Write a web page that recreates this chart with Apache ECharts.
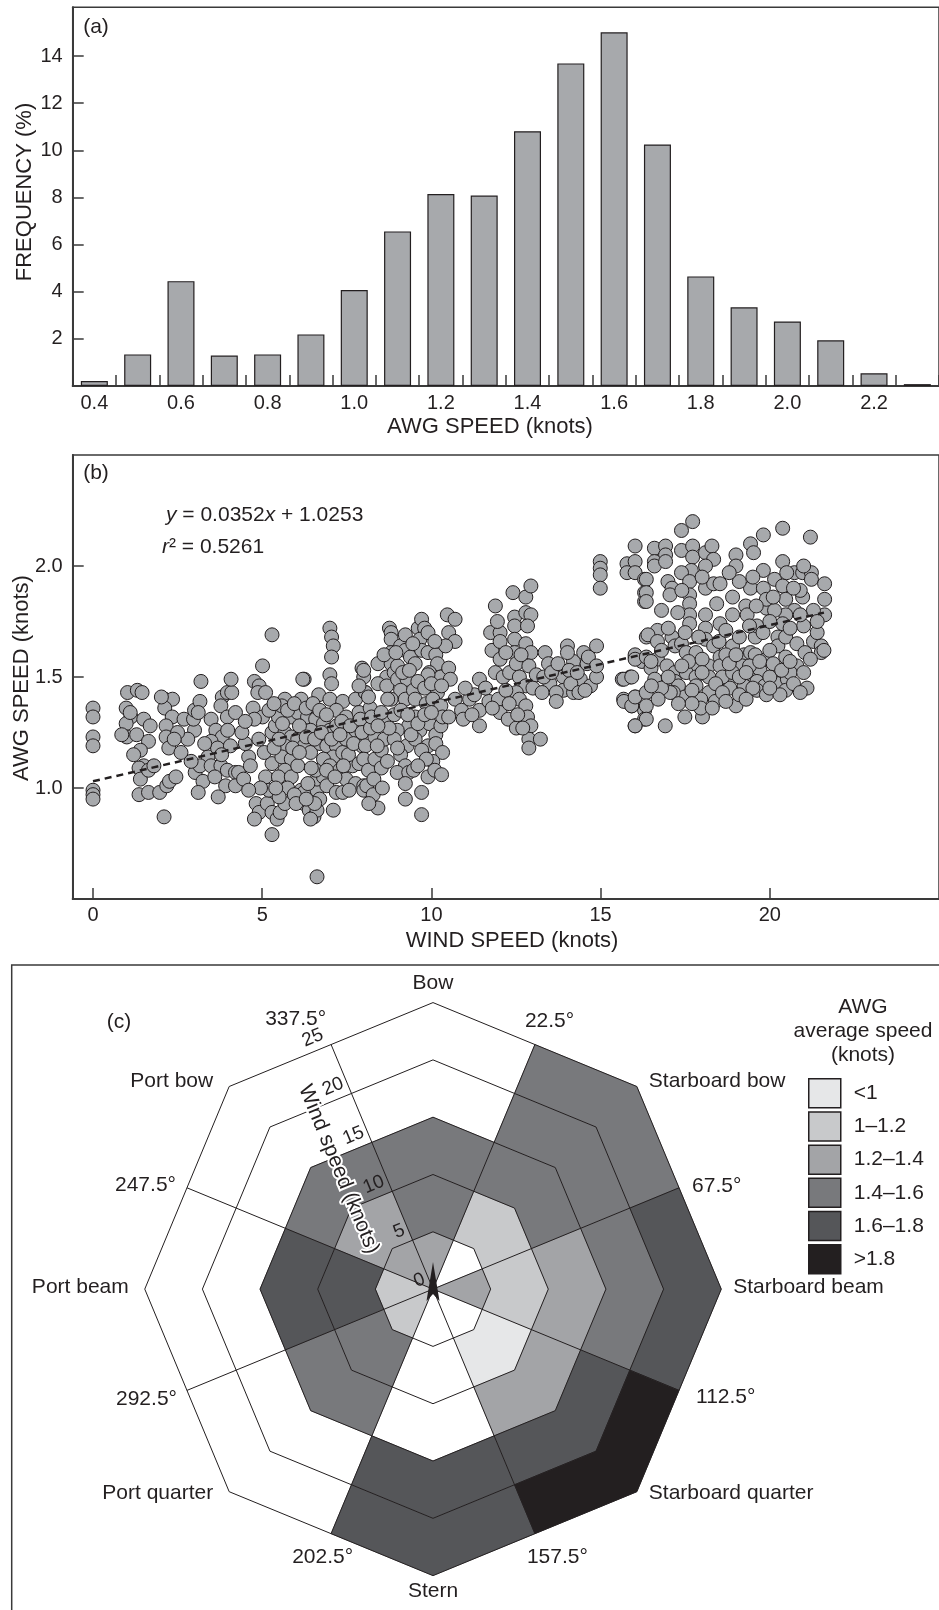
<!DOCTYPE html>
<html><head><meta charset="utf-8">
<script src="https://cdn.jsdelivr.net/npm/echarts@6/dist/echarts.min.js"></script>
<style>html,body{margin:0;padding:0;background:#fff}#c{width:939px;height:1610px}</style>
</head><body><div id="c"></div>
<script>
// ---------- DATA ----------
// (a) histogram
const histCategories = ['0.4','0.5','0.6','0.7','0.8','0.9','1.0','1.1','1.2','1.3','1.4','1.5','1.6','1.7','1.8','1.9','2.0','2.1','2.2','2.3'];
const histFrequency = [0.21,1.34,4.45,1.29,1.34,2.19,4.07,6.56,8.15,8.08,10.81,13.69,15.01,10.25,4.65,3.34,2.74,1.94,0.54,0.08];
const freqTicks = [2,4,6,8,10,12,14];

// (b) scatter: [wind speed, AWG speed]
const scatterPoints = [
[0,1.36],[0,1.32],[0,1.23],[0,1.19],[0,0.99],[0,0.97],[0,0.95],
[1.02,1.43],[1.31,1.44],[1.45,1.43],[0.98,1.36],[1.12,1.32],[0.98,1.29],[1.5,1.31],[1.69,1.28],[1.0,1.23],[1.29,1.24],[1.64,1.21],[1.4,1.17],[1.5,1.1],[1.36,1.09],[1.4,1.04],[1.64,1.08],[1.36,0.97],[1.64,0.98],
[2.12,1.40],[2.35,1.40],[2.12,1.36],[2.34,1.32],[2.16,1.28],[2.16,1.23],[2.24,1.18],[1.97,0.98],[2.18,1.01],[2.26,1.03],[2.45,1.05],[2.1,0.87],[2.02,1.41],
[2.69,1.31],[3.0,1.26],[2.97,1.31],[3.0,1.35],[3.19,1.48],[3.16,1.39],[3.11,1.34],[3.49,1.31],[3.4,1.14],[3.02,1.07],[3.16,1.10],[3.25,1.03],[3.11,0.98],[3.49,1.1],
[3.82,1.41],[3.97,1.43],[4.1,1.43],[4.08,1.49],[3.78,1.37],[3.97,1.32],[4.21,1.34],[3.63,1.26],[3.82,1.23],[3.98,1.26],[3.49,1.21],[3.68,1.18],[4.06,1.19],[3.78,1.1],[3.97,1.08],[4.21,1.07],[3.92,1.01],[4.21,1.01],[3.7,0.96],[4.3,1.07],
[4.77,1.48],[4.91,1.46],[5.01,1.55],[4.87,1.43],[5.1,1.43],[4.73,1.36],[5.01,1.32],[4.77,1.31],[5.29,1.69],
[4.82,0.93],[4.91,0.89],[4.77,0.86],[5.15,0.93],[5.29,0.89],[5.44,0.86],[5.53,0.89],[5.67,0.93],[5.29,0.79],[5.2,0.99],[5.1,1.05],[5.29,1.11],[5.06,1.16],[5.29,1.25],[5.39,1.28],
[5.48,1.32],[5.67,1.4],[5.86,1.32],[6.05,1.34],[6.15,1.4],[6.24,1.49],[6.67,1.42],[5.67,1.25],[5.86,1.23],[6.05,1.22],[5.67,1.19],[5.58,1.14],[5.86,1.13],[5.67,1.08],[5.48,1.05],[5.86,1.05],[6.05,1.1],[6.15,0.99],[6.24,0.93],[6.39,0.9],[6.53,0.87],[6.62,0.9],[6.43,0.86],[6.24,0.98],[6.62,0.99],[6.62,1.04],[6.81,1.05],[6.58,1.08],[6.91,1.01],[7.1,0.9],[7.19,0.98],[7.38,0.98],[6.62,0.60],
[6.34,1.32],[6.58,1.31],[6.81,1.29],[7.0,1.26],[6.43,1.26],[6.24,1.19],[6.43,1.16],[6.72,1.2],[6.91,1.19],[7.19,1.19],[7.1,1.14],[7.38,1.16],[7.48,1.22],[6.81,1.13],[7.0,1.1],[7.29,1.08],[7.48,1.04],[7.67,1.1],[7.76,1.02],[7.57,0.99],
[7.0,1.72],[7.05,1.68],[7.1,1.64],[7.05,1.59],[7.0,1.51],[7.05,1.47],[7.0,1.40],
[7.38,1.39],[7.19,1.35],[7.48,1.32],[7.76,1.40],[7.95,1.54],[8.0,1.5],[8.05,1.43],[7.86,1.34],[7.95,1.25],[7.95,1.19],[7.86,1.11],[8.0,1.01],[7.76,1.26],[6.2,1.49],[5.58,1.37],
[5.6,1.29],[5.75,1.35],[5.95,1.38],[6.1,1.28],[6.3,1.36],[6.5,1.38],[6.7,1.35],[6.9,1.33],[7.2,1.28],[7.35,1.3],[7.6,1.28],[5.9,1.18],[6.1,1.16],[6.3,1.23],[6.55,1.22],[6.75,1.25],[7.05,1.22],[7.3,1.24],[7.55,1.15],[7.7,1.2],[5.75,1.0],[5.95,0.97],[6.0,0.93],[6.35,1.02],[6.45,1.09],[6.9,1.08],[7.15,1.05],[7.4,1.1],[6.7,0.95],[6.55,0.93],[6.3,0.95],[5.5,0.96],[5.4,1.0],[5.35,1.18],[5.5,1.22],[5.2,1.35],[5.35,1.38],[4.6,1.14],[4.5,1.2],[4.65,1.1],[4.45,1.04],[4.9,1.22],[4.95,1.0],[4.6,0.99],[3.3,1.2],[2.8,1.22],[2.6,1.16],[2.9,1.12],[3.6,1.05],[3.8,1.15],[4.4,1.25],[4.5,1.3],[2.5,1.25],[1.8,1.1],[1.2,1.15],[1.1,1.34],[2.4,1.22],[0.85,1.24],
[8.0,1.53],[8.05,1.43],[8.19,1.36],[7.9,1.31],[7.95,1.25],[8.05,1.19],[8.0,1.13],[8.14,1.08],[8.0,0.99],[8.09,1.01],[8.28,0.97],[8.42,0.91],[8.33,1.13],[8.52,1.17],[8.52,1.09],[8.33,1.23],[8.61,1.22],[8.42,1.56],[8.76,1.72],[8.81,1.70],[8.81,1.67],[8.81,1.61],[8.81,1.56],[8.68,1.50],[8.42,1.47],[8.68,1.46],[8.9,1.52],[9.09,1.64],[9.23,1.69],[9.23,1.62],[9.38,1.59],[9.52,1.56],[9.61,1.72],[9.71,1.76],[9.8,1.72],[9.66,1.67],[9.71,1.62],[9.9,1.61],[10.13,1.60],[10.18,1.56],[9.94,1.52],[10.28,1.50],[10.47,1.78],[10.7,1.76],[10.51,1.70],[10.7,1.66],[10.42,1.64],[10.51,1.54],[10.56,1.49],
[9.0,1.49],[9.28,1.49],[9.09,1.44],[8.81,1.40],[9.23,1.40],[9.47,1.44],[9.52,1.40],[9.9,1.51],[9.85,1.38],[10.18,1.43],[10.04,1.40],[10.28,1.37],[9.52,1.32],[9.33,1.28],[9.66,1.26],[9.94,1.29],[10.13,1.24],[10.28,1.28],[10.33,1.32],[10.51,1.32],[8.99,1.26],[8.9,1.22],[9.28,1.19],[9.52,1.22],[9.9,1.19],[10.13,1.2],[10.33,1.16],[9.71,1.17],[10.04,1.12],[9.85,1.13],[9.09,1.15],[9.23,1.1],[8.99,1.07],[9.33,1.07],[9.47,1.08],[9.23,1.02],[9.23,0.95],[9.71,0.98],[9.71,0.88],
[8.2,1.27],[8.4,1.19],[8.6,1.3],[8.75,1.27],[8.9,1.33],[9.1,1.35],[9.3,1.33],[9.4,1.24],[9.6,1.29],[9.8,1.33],[10.0,1.34],[9.0,1.55],[9.15,1.52],[9.35,1.53],[9.6,1.48],[9.8,1.45],[10.0,1.47],[10.3,1.46],[8.6,1.6],[8.95,1.61],[9.45,1.65],[9.9,1.7],[10.1,1.66],[8.3,1.04],[8.55,1.0],[8.7,1.12],[9.0,1.18],[9.6,1.1],[9.9,1.05],[10.1,1.08],[10.3,1.06],[8.15,0.93],
[10.7,1.40],[10.89,1.35],[10.94,1.31],[11.13,1.40],[11.27,1.42],[11.42,1.49],[11.42,1.35],[11.42,1.28],[11.7,1.39],[11.98,1.40],[12.03,1.34],[12.27,1.31],[12.51,1.27],[11.89,1.82],[11.75,1.70],[12.03,1.70],[11.79,1.62],[12.03,1.66],[11.89,1.52],[12.03,1.58],[12.12,1.50],[12.31,1.52],[12.41,1.88],[12.79,1.86],[12.94,1.91],[12.46,1.77],[12.46,1.73],[12.46,1.67],[12.79,1.79],[12.94,1.78],[12.84,1.73],[12.79,1.65],[12.94,1.61],[12.46,1.61],[12.51,1.56],[12.6,1.50],[12.88,1.55],[12.79,1.46],[12.51,1.43],[12.6,1.40],[12.79,1.37],[12.84,1.32],[12.55,1.33],[12.94,1.28],[12.88,1.22],[12.88,1.18],[13.22,1.22],
[11.0,1.45],[11.2,1.33],[11.6,1.45],[11.8,1.36],[12.2,1.44],[12.3,1.38],[12.2,1.61],[11.95,1.75],[12.65,1.6],[12.7,1.27],[13.0,1.45],[13.1,1.51],[13.5,1.47],[13.9,1.50],[14.2,1.57],[14.4,1.49],[14.7,1.46],[13.9,1.44],[14.2,1.43],
[13.36,1.61],[13.46,1.56],[13.32,1.50],[13.27,1.43],[13.69,1.43],[13.69,1.39],[13.55,1.52],[13.74,1.56],[14.02,1.64],[14.02,1.61],[14.07,1.53],[14.12,1.47],[14.31,1.52],[14.36,1.43],[14.5,1.61],[14.54,1.44],[14.6,1.56],[14.64,1.59],[14.88,1.64],[14.88,1.50],[14.88,1.55],
[14.99,2.02],[14.99,1.99],[14.99,1.96],[14.99,1.90],
[15.64,1.49],[15.88,1.50],[15.68,1.40],[15.92,1.37],[16.02,1.41],[16.02,1.28],[16.02,1.59],[16.22,1.57],[16.35,1.68],[16.02,2.09],[15.78,2.01],[15.78,1.97],[16.02,2.02],[16.02,1.97],[16.3,1.94],[16.3,1.88],[16.3,1.84],[16.3,1.35],[16.3,1.31],
[7.86,1.46],[8.14,1.41],[8.23,1.32],[8.52,1.34],[8.42,1.28],[8.71,1.40],
[17.72,2.20],[17.39,2.16],[20.38,2.17],[19.81,2.14],[21.2,2.13],[19.43,2.10],[19.52,2.06],[16.59,2.08],[16.92,2.09],[16.92,2.05],[17.39,2.07],[17.72,2.09],[17.72,2.04],[18.1,2.06],[18.29,2.09],[18.34,2.03],[18.1,2.0],[17.68,1.98],[17.39,1.97],[16.59,2.02],[16.59,2.0],[16.92,2.02],[19.0,2.05],[19.0,2.0],[20.38,2.02],[19.81,1.98],
[16.35,1.94],[16.35,1.88],[16.35,1.84],[16.99,1.93],[17.11,1.90],[17.05,1.87],[17.63,1.93],[17.63,1.87],[17.63,1.83],[17.63,1.78],[17.63,1.74],[17.28,1.79],[18.1,1.90],[18.1,1.78],[18.34,1.92],[18.53,1.92],[18.43,1.83],[18.53,1.74],[18.9,1.86],[18.9,1.78],[19.43,1.90],[19.29,1.82],[19.33,1.78],[19.81,1.90],[19.9,1.81],[20.14,1.94],[20.38,1.91],[20.47,1.85],[20.73,1.97],[20.97,1.97],[21.23,1.97],[21.23,1.94],[21.62,1.92],[21.62,1.85],[21.62,1.78],[21.29,1.80],[20.97,1.86],[20.73,1.80],[20.47,1.78],[20.38,1.74],[20.9,1.89],
[16.68,1.71],[16.4,1.69],[16.68,1.66],[17.11,1.68],[17.2,1.64],[17.39,1.65],[16.02,1.60],[16.02,1.58],[16.35,1.59],[16.68,1.58],[16.49,1.54],[16.96,1.55],[17.2,1.52],[17.53,1.61],[17.82,1.61],[18.1,1.72],[18.1,1.67],[18.34,1.64],[18.53,1.59],[17.82,1.55],[18.2,1.55],[17.53,1.52],[17.82,1.50],[18.2,1.50],[17.2,1.48],[17.3,1.46],[17.49,1.41],[17.15,1.43],[17.82,1.46],[18.2,1.43],[17.96,1.40],[18.01,1.35],[18.01,1.32],[18.39,1.39],[18.53,1.55],[18.77,1.49],[18.82,1.45],[19.0,1.37],[18.9,1.64],[19.24,1.60],[19.19,1.55],[19.43,1.61],[19.57,1.68],[19.62,1.73],[19.57,1.60],[19.71,1.53],[19.43,1.49],[19.24,1.46],[19.62,1.48],[19.85,1.46],[19.62,1.44],[20.19,1.52],[20.24,1.47],[20.52,1.49],[20.47,1.44],[20.24,1.68],[20.24,1.64],[20.47,1.59],[20.47,1.68],[20.8,1.65],[21.0,1.73],[21.29,1.66],[21.52,1.64],[21.52,1.61],[21.04,1.61],[20.8,1.55],[19.9,1.85],[20.14,1.80],
[15.69,1.49],[15.92,1.50],[15.69,1.39],[15.92,1.37],[16.02,1.41],[16.35,1.43],[16.35,1.37],[16.35,1.31],[16.02,1.28],[16.91,1.28],[17.49,1.32],[17.96,1.36],[16.49,1.57],[17.06,1.43],
[18.6,1.50],[18.9,1.52],[19.1,1.50],[19.4,1.55],[19.9,1.58],[20.0,1.50],[20.6,1.52],[17.6,1.57],[18.0,1.58],[18.7,1.60],[19.1,1.42],[19.9,1.42],[20.3,1.42],
[16.6,1.49],[16.8,1.45],[17.0,1.50],[17.4,1.55],[17.7,1.44],[18.0,1.52],[18.4,1.47],[18.6,1.43],[18.8,1.56],[19.0,1.60],[19.3,1.52],[19.5,1.45],[19.7,1.57],[20.0,1.62],[20.1,1.56],[20.35,1.53],[20.6,1.57],[20.7,1.47],[21.0,1.52],[21.2,1.58],[21.4,1.70],[21.6,1.62],[21.1,1.45],[20.9,1.43],[20.0,1.45],[19.3,1.40],[18.7,1.39],[18.3,1.36],[17.7,1.38],[17.3,1.38],[16.7,1.40],[16.5,1.46],[16.8,1.62],[17.0,1.72],[17.5,1.70],[17.9,1.68],[18.5,1.66],[18.7,1.71],[19.1,1.68],[19.4,1.73],[19.8,1.70],[20.0,1.75],[20.6,1.72],[20.9,1.78],[21.4,1.75],[19.6,1.82],[20.1,1.86],[20.7,1.9],[19.1,1.93],[18.8,1.97],[18.0,1.95],[17.4,1.89],[16.8,1.80],[19.5,1.95],[20.5,1.97],[21.0,2.0]
];
const regressionLine = [[0, 1.03], [21.6, 1.79]];
const windTicks = [0,5,10,15,20];
const awgTicks = [1.0,1.5,2.0];

// (c) wind rose
const sectorNames = ['Bow','Starboard bow','Starboard beam','Starboard quarter','Stern','Port quarter','Port beam','Port bow'];
const sectorAngles = [0,45,90,135,180,225,270,315];
const ringEdges = [0,5,10,15,20,25];
const ringLabels = ['0','5','10','15','20','25'];
const boundaryAngles = [22.5,67.5,112.5,157.5,202.5,247.5,292.5,337.5];
const boundaryLabels = ['22.5°','67.5°','112.5°','157.5°','202.5°','292.5°','247.5°','337.5°'];
const classNames = ['<1','1–1.2','1.2–1.4','1.4–1.6','1.6–1.8','>1.8'];
// class index per sector (rows) and wind ring 0-5,5-10,10-15,15-20,20-25 (cols); -1 = no data
const cellClass = [
  [2, 3, 3,-1,-1],  // Bow
  [-1,1, 3, 3, 3],  // Starboard bow
  [2, 1, 2, 3, 4],  // Starboard beam
  [-1,0, 2, 4, 5],  // Starboard quarter
  [-1,-1,-1,4, 4],  // Stern
  [1, 3, 3,-1,-1],  // Port quarter
  [1, 4, 4,-1,-1],  // Port beam
  [2, 2, 3,-1,-1]   // Port bow
];

// ---------- STYLE ----------
const INK = '#231f20';
const AX = '#3a3a3a';
const FONT = '"Liberation Sans", Arial, Helvetica, sans-serif';
const classColors = ['#e6e7e8','#c8c9cb','#a3a4a7','#78797c','#555659','#231f20'];
const BAR_FILL = '#a7a9ac';
const COS_D = Math.cos(Math.PI/8);
// label layout for the radial boundary labels: [dx, dy, align]
const boundaryLayout = [[-10,-23,'left'],[13,-2,'left'],[17,7,'left'],[-8,24,'left'],[22,24,'right'],[-10,9,'right'],[-11,-3,'right'],[-5,-25,'right']];

function polar(api, r, angDeg) {
  const t = angDeg * Math.PI / 180;
  return api.coord([r * Math.sin(t), r * Math.cos(t)]);
}

const chart = echarts.init(document.getElementById('c'), null, {renderer:'canvas', width:939, height:1610});

const classSeries = classNames.map((name, ci) => {
  const data = [];
  cellClass.forEach((row, s) => row.forEach((c, r) => { if (c === ci) data.push([s, r]); }));
  return {
    type:'custom', name, coordinateSystem:'cartesian2d', xAxisIndex:2, yAxisIndex:2, silent:true, z:1,
    itemStyle:{color: classColors[ci]},
    data,
    renderItem: (p, api) => {
      const s = api.value(0), r = api.value(1);
      const th = sectorAngles[s], r1 = ringEdges[r], r2 = ringEdges[r+1];
      const pts = [polar(api, r1*COS_D, th-22.5), polar(api, r1, th), polar(api, r1*COS_D, th+22.5),
                   polar(api, r2*COS_D, th+22.5), polar(api, r2, th), polar(api, r2*COS_D, th-22.5)];
      const col = api.visual('color');
      return {type:'polygon', shape:{points:pts}, style:{fill:col, stroke:col, lineWidth:0.6}};
    }
  };
});

const txt = (text, x, y, extra) => Object.assign({type:'text', x, y, silent:true,
  style:Object.assign({text, fill:INK, font:'21px ' + FONT, align:'center', verticalAlign:'middle'}, (extra||{}).style||{})},
  extra ? {rotation: extra.rotation || 0} : {});

const option = {
  animation:false,
  backgroundColor:'#fff',
  grid:[
    {left:72.7, top:7.3, width:877, height:378.7, show:true, borderColor:AX, borderWidth:1.5},
    {left:72.7, top:455, width:899, height:444, show:true, borderColor:AX, borderWidth:1.5},
    {left:87.1, top:968.2, width:691.8, height:645.7, show:false}
  ],
  xAxis:[
    {type:'category', gridIndex:0, data:histCategories,
     axisLine:{onZero:false, lineStyle:{color:AX, width:2}},
     axisTick:{show:true, inside:true, length:11, interval:0, lineStyle:{color:AX, width:1.5}},
     axisLabel:{interval:1, fontSize:20, fontFamily:FONT, color:INK, margin:7},
     splitLine:{show:false}},
    {type:'value', gridIndex:1, min:-0.6, max:25,
     axisLine:{onZero:false, lineStyle:{color:AX, width:2}},
     axisTick:{show:true, inside:true, length:11, customValues:windTicks, lineStyle:{color:AX, width:1.5}},
     axisLabel:{customValues:windTicks, fontSize:20, fontFamily:FONT, color:INK, margin:6},
     splitLine:{show:false}},
    {type:'value', gridIndex:2, min:-30, max:30, show:false}
  ],
  yAxis:[
    {type:'value', gridIndex:0, min:0, max:16.07,
     axisLine:{show:true, onZero:false, lineStyle:{color:AX, width:2}},
     axisTick:{show:true, inside:true, length:11, customValues:freqTicks, lineStyle:{color:AX, width:1.5}},
     axisLabel:{customValues:freqTicks, fontSize:20, fontFamily:FONT, color:INK, margin:10},
     splitLine:{show:false}},
    {type:'value', gridIndex:1, min:0.5, max:2.5,
     axisLine:{show:true, onZero:false, lineStyle:{color:AX, width:2}},
     axisTick:{show:true, inside:true, length:11, customValues:awgTicks, lineStyle:{color:AX, width:1.5}},
     axisLabel:{customValues:awgTicks, fontSize:20, fontFamily:FONT, color:INK, margin:10, formatter:v => v.toFixed(1)},
     splitLine:{show:false}},
    {type:'value', gridIndex:2, min:-28, max:28, show:false}
  ],
  legend:{
    data:classNames, orient:'vertical', left:803, top:1073, itemWidth:32, itemHeight:29, itemGap:2.7,
    icon:'rect', selectedMode:false,
    textStyle:{fontSize:21, fontFamily:FONT, color:INK, padding:[0,0,0,8]},
    itemStyle:{borderColor:INK, borderWidth:1.5}
  },
  series:[
    {type:'bar', xAxisIndex:0, yAxisIndex:0, data:histFrequency, barWidth:27,
     itemStyle:{color:BAR_FILL, borderColor:INK, borderWidth:1.2}, silent:true},
    {type:'scatter', xAxisIndex:1, yAxisIndex:1, data:scatterPoints, symbolSize:14,
     itemStyle:{color:BAR_FILL, borderColor:INK, borderWidth:1, opacity:1}, silent:true, z:2},
    {type:'line', xAxisIndex:1, yAxisIndex:1, data:regressionLine, symbol:'none',
     lineStyle:{color:INK, width:2.5, type:[7,5]}, silent:true, z:3},
    ...classSeries,
    // ring outlines
    {type:'custom', coordinateSystem:'cartesian2d', xAxisIndex:2, yAxisIndex:2, silent:true, z:2,
     data: ringEdges.slice(1).map(r => [r, 0]),
     renderItem:(p, api) => {
       const r = api.value(0);
       return {type:'polygon', shape:{points: sectorAngles.map(a => polar(api, r, a))},
               style:{fill:'none', stroke:INK, lineWidth:1}};
     }},
    // radial boundaries
    {type:'custom', coordinateSystem:'cartesian2d', xAxisIndex:2, yAxisIndex:2, silent:true, z:2,
     data: boundaryAngles.map(a => [a, 0]),
     renderItem:(p, api) => {
       const a = api.value(0);
       const c = polar(api, 0, a), e = polar(api, ringEdges[5]*COS_D, a);
       return {type:'line', shape:{x1:c[0], y1:c[1], x2:e[0], y2:e[1]}, style:{stroke:INK, lineWidth:1}};
     }},
    // centre arrow
    {type:'custom', coordinateSystem:'cartesian2d', xAxisIndex:2, yAxisIndex:2, silent:true, z:4,
     data:[[0,0]],
     renderItem:(p, api) => {
       const c = api.coord([api.value(0), api.value(1)]);
       return {type:'polygon', shape:{points:[[c[0], c[1]-27],[c[0]+6.5, c[1]+12],[c[0], c[1]+5],[c[0]-6.5, c[1]+12]]},
               style:{fill:INK}};
     }},
    // sector (vertex) labels
    {type:'custom', coordinateSystem:'cartesian2d', xAxisIndex:2, yAxisIndex:2, silent:true, z:5,
     data: sectorNames.map((n, i) => [i, 0]),
     renderItem:(p, api) => {
       const k = api.value(0), th = sectorAngles[k] * Math.PI / 180;
       const pos = polar(api, ringEdges[5], sectorAngles[k]);
       const s = Math.sin(th), co = Math.cos(th);
       let align = 'center', dx = 0, dy;
       if (s > 0.1) { align = 'left'; dx = 12; } else if (s < -0.1) { align = 'right'; dx = -16; }
       if (Math.abs(s) < 0.1) dy = co > 0 ? -19 : 16; else dy = -2 - 5*co;
       return {type:'text', x:pos[0]+dx, y:pos[1]+dy,
               style:{text:sectorNames[k], align, verticalAlign:'middle', font:'21px ' + FONT, fill:INK}};
     }},
    // boundary angle labels
    {type:'custom', coordinateSystem:'cartesian2d', xAxisIndex:2, yAxisIndex:2, silent:true, z:5,
     data: boundaryAngles.map((a, i) => [i, 0]),
     renderItem:(p, api) => {
       const i = api.value(0);
       const pos = polar(api, ringEdges[5]*COS_D, boundaryAngles[i]);
       const L = boundaryLayout[i];
       return {type:'text', x:pos[0]+L[0], y:pos[1]+L[1],
               style:{text:boundaryLabels[i], align:L[2], verticalAlign:'middle', font:'21px ' + FONT, fill:INK}};
     }},
    // wind-speed ring labels along the 337.5 deg radial
    {type:'custom', coordinateSystem:'cartesian2d', xAxisIndex:2, yAxisIndex:2, silent:true, z:6,
     data: ringLabels.map((t, i) => [i, 0]),
     renderItem:(p, api) => {
       const i = api.value(0);
       const pos = polar(api, ringEdges[i]*COS_D, 337.5);
       return {type:'text', x:pos[0]-5, y:pos[1]-2, rotation:Math.PI/8,
               style:{text:ringLabels[i], align:'right', verticalAlign:'bottom', font:'19px ' + FONT, fill:INK}};
     }},
    // axis title along radial
    {type:'custom', coordinateSystem:'cartesian2d', xAxisIndex:2, yAxisIndex:2, silent:true, z:6,
     data:[[12.8, 0]],
     renderItem:(p, api) => {
       const pos = polar(api, api.value(0), 337.5);
       return {type:'text', x:pos[0]-37.9, y:pos[1]+15.7, rotation:-3*Math.PI/8,
               style:{text:'Wind speed (knots)', align:'center', verticalAlign:'middle', font:'21px ' + FONT,
                      fill:INK, stroke:'#fff', lineWidth:4}};
     }}
  ],
  graphic:[
    {type:'rect', silent:true, shape:{x:11.7, y:965, width:1000, height:700}, style:{fill:'none', stroke:AX, lineWidth:1.5}},
    txt('(a)', 96, 27),
    txt('(b)', 96, 473),
    txt('(c)', 119, 1022),
    txt('FREQUENCY (%)', 25, 192, {rotation:Math.PI/2, style:{font:'22px ' + FONT}}),
    txt('AWG SPEED (knots)', 490, 427, {style:{font:'22px ' + FONT}}),
    txt('AWG SPEED (knots)', 22, 678, {rotation:Math.PI/2, style:{font:'22px ' + FONT}}),
    txt('WIND SPEED (knots)', 512, 941, {style:{font:'22px ' + FONT}}),
    {type:'text', x:166, y:515, silent:true, style:{text:'{i|y} = 0.0352{i|x} + 1.0253', font:'21px ' + FONT, fill:INK,
       align:'left', verticalAlign:'middle', rich:{i:{fontStyle:'italic', fontSize:21, fontFamily:FONT, fill:INK}}}},
    {type:'text', x:162, y:547, silent:true, style:{text:'{i|r}² = 0.5261', font:'21px ' + FONT, fill:INK,
       align:'left', verticalAlign:'middle', rich:{i:{fontStyle:'italic', fontSize:21, fontFamily:FONT, fill:INK}}}},
    txt('AWG', 863, 1007),
    txt('average speed', 863, 1031),
    txt('(knots)', 863, 1055)
  ]
};
chart.setOption(option);
</script>
</body></html>
